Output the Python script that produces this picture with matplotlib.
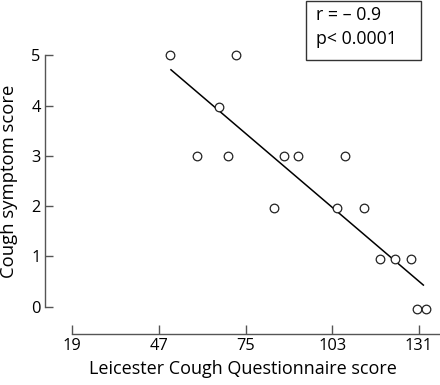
import matplotlib
matplotlib.use("Agg")
import matplotlib.pyplot as plt
import numpy as np

# Data
lcq_score = [50.6, 71.8, 66.5, 59.3, 69.3, 87.4, 91.9, 107.2, 84.2, 104.5, 113.4, 118.5, 123.3, 128.5, 130.3, 133.4]
symptom_score = [5.0, 5.0, 3.97, 2.99, 2.99, 2.99, 2.99, 2.99, 1.97, 1.97, 1.97, 0.95, 0.95, 0.95, -0.05, -0.05]
fit_x = [50.9, 132.5]
fit_y = [4.71, 0.43]
x_ticks = [19, 47, 75, 103, 131]
y_ticks = [0, 1, 2, 3, 4, 5]
annotation = ["r = \u2013 0.9", "p< 0.0001"]

plt.rcParams['font.family'] = ['Open Sans', 'DejaVu Sans']

W, H = 440, 385
fig = plt.figure(figsize=(W / 100, H / 100), dpi=100)

# axes placement in pixels
left_px, right_px, bottom_px, top_px = 45, 440, 334, 50
ax = fig.add_axes([left_px / W, 1 - bottom_px / H, (right_px - left_px) / W, (bottom_px - top_px) / H])

# pixel mapping: x=19 -> 72.3, 3.093 px/unit ; y=0 -> 306.7, 50.3 px/unit
xpu = 3.093
x0 = 19 - (72.3 - left_px) / xpu
x1 = 19 + (right_px - 72.3) / xpu
ypu = 50.3
y0 = -(bottom_px - 306.7) / ypu
y1 = (306.7 - top_px) / ypu
ax.set_xlim(x0, x1)
ax.set_ylim(y0, y1)

ax.plot(fit_x, fit_y, color='black', lw=1.1, zorder=2)
ax.plot(lcq_score, symptom_score, 'o', mfc='white', mec='#222222', mew=0.9, ms=6.2, zorder=3, clip_on=False)

spine_col = '#555555'
for s in ['top', 'right']:
    ax.spines[s].set_visible(False)
ax.spines['left'].set_bounds(0, 5)
ax.spines['bottom'].set_bounds(19, x1)
for s in ['left', 'bottom']:
    ax.spines[s].set_color(spine_col)
    ax.spines[s].set_linewidth(1.0)

ax.set_xticks(x_ticks)
ax.set_yticks(y_ticks)
ax.tick_params(axis='both', direction='in', colors=spine_col, labelcolor='black', labelsize=11.8, width=1.0)
ax.tick_params(axis='y', length=5.5, pad=3)
ax.tick_params(axis='x', length=6.5, pad=3)

ax.set_xlabel('Leicester Cough Questionnaire score', fontsize=13, labelpad=4)
ax.set_ylabel('Cough symptom score', fontsize=13.3)
ax.yaxis.set_label_coords(9 / W, 1 - 181 / H, transform=fig.transFigure)
ax.yaxis.label.set_va('center')

# annotation box
fig.patches.append(matplotlib.patches.Rectangle((306 / W, 1 - 59.5 / H), (421 - 306) / W, 59 / H,
                                                transform=fig.transFigure, fill=False, edgecolor='#333333', lw=1.0))
fig.text(316 / W, 1 - 15 / H, annotation[0], fontsize=12.8, va='center', ha='left')
fig.text(316 / W, 1 - 39 / H, annotation[1], fontsize=12.8, va='center', ha='left')

fig.savefig('out.png', dpi=100)
